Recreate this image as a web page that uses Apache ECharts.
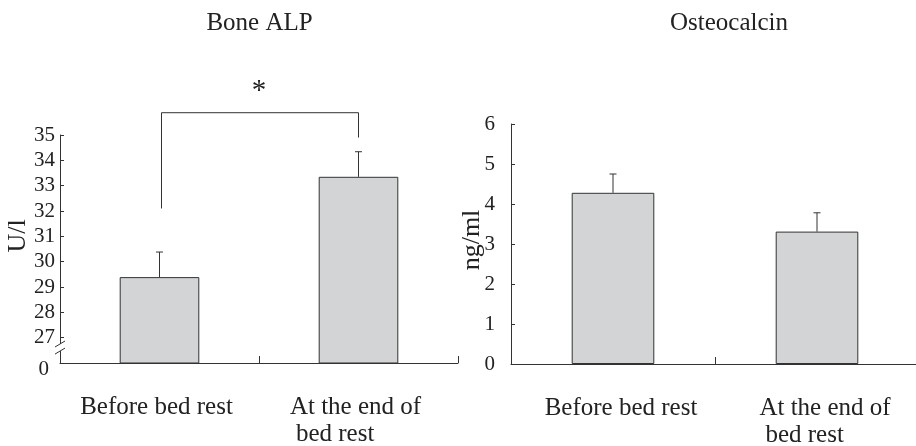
<!DOCTYPE html>
<html><head><meta charset="utf-8">
<script src="https://cdn.jsdelivr.net/npm/echarts@6/dist/echarts.min.js"></script>
<style>html,body{margin:0;padding:0;background:#fff}#c{width:916px;height:446px}</style>
</head><body><div id="c"></div>
<script>
// ---- data ----
const categories = ['Before bed rest', 'At the end of\nbed rest'];
const titles = ['Bone ALP', 'Osteocalcin'];
const yNames = ['U/l', 'ng/ml'];
const boneAlpMean = [29.39, 33.35];
const boneAlpUpper = [30.38, 34.34];
const osteocalcinMean = [4.28, 3.31];
const osteocalcinUpper = [4.75, 3.78];
// Bone ALP axis: broken axis, bottom value shown as "0"
const boneAlpMin = 26, boneAlpMax = 35, boneAlpBrokenLabel = '0';
const osteoMin = 0, osteoMax = 6;
// significance bracket (Bone ALP): [cat a, cat b, top, end a, end b, star]
const sigBracket = [0, 1, 35.88, 32.1, 34.9, 36.72];
const sigLabel = '*';
const breakMarks = [26.75, 26.47];

const FONT = '"Liberation Serif", "Times New Roman", serif';
const TXT = '#222';
const LINE = '#333';

function labelFmt(v) {
  const p = v.split('\n');
  return p.length > 1 ? '{a|' + p[0] + '}\n{b|' + p[1] + '}' : '{a|' + v + '}';
}
const richX = {
  a: {fontSize: 25, fontFamily: FONT, color: TXT, lineHeight: 27, align: 'left'},
  b: {fontSize: 25, fontFamily: FONT, color: TXT, lineHeight: 27, align: 'left', padding: [0, 0, 0, 6]}
};

function errRender(params, api) {
  const p0 = api.coord([api.value(0), api.value(1)]);
  const p1 = api.coord([api.value(0), api.value(2)]);
  return {type: 'group', children: [
    {type: 'line', shape: {x1: p0[0], y1: p0[1], x2: p1[0], y2: p1[1]}, style: {stroke: LINE, lineWidth: 1}},
    {type: 'line', shape: {x1: p1[0] - 3.5, y1: p1[1], x2: p1[0] + 3.5, y2: p1[1]}, style: {stroke: LINE, lineWidth: 1}}
  ]};
}
function bracketRender(params, api) {
  const a = api.coord([api.value(0), api.value(3)]);
  const b = api.coord([api.value(1), api.value(4)]);
  const topY = api.coord([0, api.value(2)])[1];
  const starY = api.coord([0, api.value(5)])[1];
  return {type: 'group', children: [
    {type: 'polyline', shape: {points: [[a[0] + 2, a[1]], [a[0] + 2, topY], [b[0], topY], [b[0], b[1]]]},
     style: {stroke: LINE, lineWidth: 1, fill: null}},
    {type: 'text', x: (a[0] + b[0]) / 2, y: starY,
     style: {text: sigLabel, fontSize: 29, fontFamily: FONT, fill: TXT, align: 'center', verticalAlign: 'middle'}}
  ]};
}
function breakRender(params, api) {
  const y1 = api.coord([0, api.value(1)])[1];
  const y2 = api.coord([0, api.value(2)])[1];
  const x = params.coordSys.x;
  return {type: 'group', children: [
    {type: 'line', shape: {x1: x, y1: y1, x2: x, y2: y2}, style: {stroke: '#fff', lineWidth: 3}},
    {type: 'line', shape: {x1: x - 5, y1: y1 + 3, x2: x + 5, y2: y1 - 3}, style: {stroke: LINE, lineWidth: 1}},
    {type: 'line', shape: {x1: x - 5, y1: y2 + 3, x2: x + 5, y2: y2 - 3}, style: {stroke: LINE, lineWidth: 1}}
  ]};
}

const chart = echarts.init(document.getElementById('c'));
const xAxisBase = (gi, pad) => ({
  gridIndex: gi, type: 'category', data: categories,
  axisLine: {lineStyle: {color: LINE, width: 1}},
  axisTick: {show: true, inside: true, length: 7, lineStyle: {color: LINE}},
  axisLabel: {interval: 0, margin: 31, formatter: labelFmt, rich: richX, color: TXT, fontFamily: FONT, fontSize: 25, padding: pad},
  splitLine: {show: false}
});

chart.setOption({
  animation: false,
  backgroundColor: '#fff',
  graphic: [
    {type: 'text', x: 259.5, y: 23, style: {text: titles[0], fontSize: 25, fontFamily: FONT, fill: TXT, align: 'center', verticalAlign: 'middle'}},
    {type: 'text', x: 729, y: 23, style: {text: titles[1], fontSize: 25, fontFamily: FONT, fill: TXT, align: 'center', verticalAlign: 'middle'}}
  ],
  grid: [
    {left: 60, top: 135, width: 398, height: 228, outerBoundsMode: 'none', containLabel: false},
    {left: 511, top: 124, width: 408, height: 240, outerBoundsMode: 'none', containLabel: false}
  ],
  xAxis: [
    xAxisBase(0, [0, 6, 0, 0]),
    xAxisBase(1, [0, 0, 0, 16])
  ],
  yAxis: [
    {gridIndex: 0, type: 'value', min: boneAlpMin, max: boneAlpMax, interval: 1,
     axisLine: {show: true, lineStyle: {color: LINE, width: 1}},
     axisTick: {show: true, inside: true, length: 4, lineStyle: {color: LINE}},
     splitLine: {show: false},
     axisLabel: {margin: 5, color: TXT, fontFamily: FONT, fontSize: 21,
       formatter: v => v === boneAlpMin ? '{z|' + boneAlpBrokenLabel + '}' : String(v),
       rich: {z: {fontSize: 21, fontFamily: FONT, color: TXT, padding: [12, 6, 0, 0]}}},
     name: yNames[0], nameLocation: 'middle', nameRotate: 90, nameGap: 29, nameMoveOverlap: false,
     nameTextStyle: {fontSize: 26, fontFamily: FONT, color: TXT, padding: [0, 0, 0, 26]}},
    {gridIndex: 1, type: 'value', min: osteoMin, max: osteoMax, interval: 1,
     axisLine: {show: true, lineStyle: {color: LINE, width: 1}},
     axisTick: {show: true, inside: true, length: 4, lineStyle: {color: LINE}},
     splitLine: {show: false},
     axisLabel: {margin: 16, color: TXT, fontFamily: FONT, fontSize: 21},
     name: yNames[1], nameLocation: 'middle', nameRotate: 90, nameGap: 26, nameMoveOverlap: false,
     nameTextStyle: {fontSize: 26, fontFamily: FONT, color: TXT, padding: [0, 0, 0, 8]}}
  ],
  series: [
    {type: 'bar', xAxisIndex: 0, yAxisIndex: 0, data: boneAlpMean, barWidth: '40%',
     itemStyle: {color: '#d3d4d6', borderColor: LINE, borderWidth: 1}},
    {type: 'custom', xAxisIndex: 0, yAxisIndex: 0, renderItem: errRender, clip: false, z: 3,
     data: boneAlpMean.map((m, i) => [i, m, boneAlpUpper[i]])},
    {type: 'custom', xAxisIndex: 0, yAxisIndex: 0, renderItem: bracketRender, clip: false, z: 3,
     data: [sigBracket]},
    {type: 'custom', xAxisIndex: 0, yAxisIndex: 0, renderItem: breakRender, clip: false, z: 5,
     data: [[0, breakMarks[0], breakMarks[1]]]},
    {type: 'bar', xAxisIndex: 1, yAxisIndex: 1, data: osteocalcinMean, barWidth: '40.5%',
     itemStyle: {color: '#d3d4d6', borderColor: LINE, borderWidth: 1}},
    {type: 'custom', xAxisIndex: 1, yAxisIndex: 1, renderItem: errRender, clip: false, z: 3,
     data: osteocalcinMean.map((m, i) => [i, m, osteocalcinUpper[i]])}
  ]
});
</script></body></html>
